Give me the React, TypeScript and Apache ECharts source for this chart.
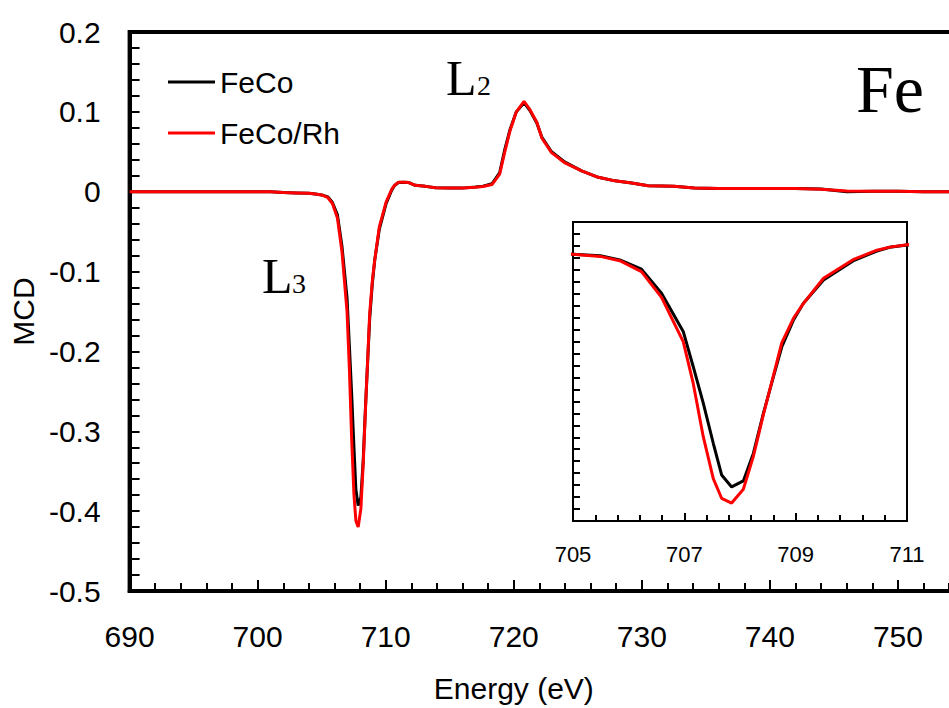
import React, { useEffect, useRef } from "react";
import * as echarts from "echarts";

// Energy (eV) sample points shared by both spectra
const energies = [
  690, 692, 694, 696, 698, 700, 701, 702, 703, 704, 704.5, 705.0, 705.49, 705.84,
  706.23, 706.59, 706.98, 707.16, 707.34, 707.52, 707.67, 707.85, 708.06, 708.24,
  708.42, 708.6, 708.75, 708.96, 709.14, 709.5, 710.03, 710.46, 710.69, 711.0,
  711.4, 711.8, 712.3, 713.1, 713.9, 715.0, 716.0, 717.0, 717.6, 718.3, 718.9,
  719.3, 719.7, 720.2, 720.8, 721.25, 721.8, 722.2, 722.95, 724.0, 725.3, 726.6,
  727.9, 729.2, 730.5, 732.5, 734.1, 736, 738, 740, 742, 744, 746, 748, 750, 752,
  754, 756, 758, 760,
];

// MCD of FeCo (black)
const feCo = [
  0, 0, 0, 0, 0, 0, 0, -0.001, -0.0015, -0.002, -0.003, -0.004, -0.0064, -0.0135,
  -0.029, -0.069, -0.133, -0.192, -0.253, -0.32, -0.373, -0.393, -0.383, -0.337,
  -0.27, -0.209, -0.159, -0.114, -0.086, -0.047, -0.015, 0.0015, 0.0077, 0.0115,
  0.012, 0.0115, 0.008, 0.0067, 0.005, 0.0045, 0.0045, 0.006, 0.007, 0.01, 0.024,
  0.053, 0.0775, 0.1, 0.1115, 0.102, 0.086, 0.068, 0.05, 0.037, 0.026, 0.018,
  0.0136, 0.0108, 0.0074, 0.0067, 0.0046, 0.004, 0.004, 0.004, 0.004, 0.0035,
  0.0, 0.0005, 0.0005, 0, 0, 0, 0, 0,
];

// MCD of FeCo/Rh (red)
const feCoRh = [
  0, 0, 0, 0, 0, 0, 0, -0.001, -0.0015, -0.002, -0.003, -0.004, -0.0075, -0.0147,
  -0.033, -0.076, -0.15, -0.22, -0.309, -0.379, -0.412, -0.42, -0.397, -0.342,
  -0.272, -0.207, -0.152, -0.111, -0.086, -0.044, -0.013, 0.0028, 0.008, 0.012,
  0.012, 0.0115, 0.008, 0.0067, 0.005, 0.0045, 0.0045, 0.0055, 0.0065, 0.009, 0.022,
  0.05, 0.076, 0.1, 0.113, 0.103, 0.087, 0.067, 0.049, 0.036, 0.026, 0.018,
  0.0136, 0.0108, 0.0074, 0.0067, 0.0046, 0.004, 0.004, 0.004, 0.004, 0.003,
  0.001, 0.0005, 0.0005, 0, 0, 0, 0, 0,
];

const seriesNames = ["FeCo", "FeCo/Rh"];
const seriesColors = ["#000000", "#ff0000"];
const yTickLabels = ["0.2", "0.1", "0", "-0.1", "-0.2", "-0.3", "-0.4", "-0.5"];

const SANS = "'Liberation Sans', Arial, sans-serif";
const SERIF = "'Liberation Serif', 'Times New Roman', serif";

function pairs(vals: number[]) {
  return energies.map((e, i) => [e, vals[i]]);
}

export default function App() {
  const ref = useRef<HTMLDivElement>(null);

  useEffect(() => {
    if (!ref.current) return;
    const chart = echarts.init(ref.current, null, { renderer: "svg" });
    const allSeries = [feCo, feCoRh];

    const lineSeries: any[] = [];
    [0, 1].forEach((g) => {
      allSeries.forEach((vals, i) => {
        lineSeries.push({
          type: "line",
          name: seriesNames[i],
          xAxisIndex: g,
          yAxisIndex: g,
          data: pairs(vals),
          showSymbol: false,
          symbol: "none",
          color: seriesColors[i],
          lineStyle: { color: seriesColors[i], width: 3 },
          clip: true,
          z: 3 + i,
        });
      });
    });

    const yLabelFmt = (v: number) => {
      const s = Math.abs(v) < 1e-9 ? "0" : v.toFixed(1);
      return yTickLabels.includes(s) ? s : "";
    };

    chart.setOption({
      animation: false,
      backgroundColor: "#ffffff",
      grid: [
        {
          left: 127,
          top: 32,
          right: 0,
          bottom: 111,
          show: true,
          borderColor: "#000",
          borderWidth: 4,
        },
        {
          left: 573,
          top: 222,
          width: 334,
          height: 299,
          show: true,
          borderColor: "#000",
          borderWidth: 2,
          backgroundColor: "#fff",
        },
      ],
      legend: {
        orient: "vertical",
        left: 163,
        top: 62,
        itemWidth: 47,
        itemHeight: 3,
        itemGap: 21,
        icon: "rect",
        data: seriesNames,
        textStyle: { fontSize: 30, color: "#000", fontFamily: SANS, lineHeight: 30 },
      },
      xAxis: [
        {
          gridIndex: 0,
          type: "value",
          min: 690,
          max: 760,
          interval: 10,
          name: "Energy (eV)",
          nameLocation: "middle",
          nameGap: 82,
          nameTextStyle: { fontSize: 30, color: "#000", fontFamily: SANS, padding: [0, 128, 0, 0] },
          axisLine: { onZero: false, lineStyle: { color: "#000", width: 4 } },
          axisTick: { inside: true, length: 11, lineStyle: { color: "#000", width: 2 } },
          minorTick: { show: true, splitNumber: 5, length: 8, lineStyle: { color: "#000", width: 2 } },
          splitLine: { show: false },
          axisLabel: { fontSize: 30, color: "#000", fontFamily: SANS, margin: 30, showMaxLabel: false },
        },
        {
          gridIndex: 1,
          type: "value",
          min: 705,
          max: 711,
          interval: 2,
          axisLine: { onZero: false, lineStyle: { color: "#000", width: 2 } },
          axisTick: { inside: true, length: 8, lineStyle: { color: "#000", width: 2 } },
          minorTick: { show: true, splitNumber: 5, length: 6, lineStyle: { color: "#000", width: 2 } },
          splitLine: { show: false },
          axisLabel: { fontSize: 22, color: "#000", fontFamily: SANS, margin: 22 },
        },
      ],
      yAxis: [
        {
          gridIndex: 0,
          type: "value",
          min: -0.5,
          max: 0.2,
          interval: 0.1,
          name: "MCD",
          nameLocation: "middle",
          nameGap: 88,
          nameTextStyle: { fontSize: 30, color: "#000", fontFamily: SANS },
          axisLine: { onZero: false, lineStyle: { color: "#000", width: 4 } },
          axisTick: { inside: true, length: 10, lineStyle: { color: "#000", width: 2 } },
          minorTick: { show: true, splitNumber: 5, length: 10, lineStyle: { color: "#000", width: 2 } },
          splitLine: { show: false },
          axisLabel: { fontSize: 30, color: "#000", fontFamily: SANS, margin: 29, formatter: yLabelFmt },
        },
        {
          gridIndex: 1,
          type: "value",
          min: -0.45,
          max: 0.05,
          interval: 0.02,
          axisLine: { onZero: false, lineStyle: { color: "#000", width: 2 } },
          axisTick: { inside: true, length: 7, lineStyle: { color: "#000", width: 2 } },
          splitLine: { show: false },
          axisLabel: { show: false },
        },
      ],
      graphic: [
        { type: "text", left: 446, top: 78 - 25, style: { text: "L", fontSize: 50, fontFamily: SERIF, fill: "#000" } },
        { type: "text", left: 477, top: 85.5 - 14, style: { text: "2", fontSize: 28, fontFamily: SERIF, fill: "#000" } },
        { type: "text", left: 262, top: 276 - 25, style: { text: "L", fontSize: 50, fontFamily: SERIF, fill: "#000" } },
        { type: "text", left: 292, top: 283.5 - 14, style: { text: "3", fontSize: 28, fontFamily: SERIF, fill: "#000" } },
        { type: "text", left: 856, top: 88.7 - 34, style: { text: "Fe", fontSize: 68, fontFamily: SERIF, fill: "#000" } },
      ],
      series: lineSeries,
    });

    return () => chart.dispose();
  }, []);

  return (
    <div
      style={{
        position: "fixed",
        left: 0,
        top: 0,
        width: 949,
        height: 708,
        overflow: "hidden",
        background: "#fff",
      }}
    >
      <div ref={ref} style={{ width: 1026, height: 708 }} />
    </div>
  );
}
